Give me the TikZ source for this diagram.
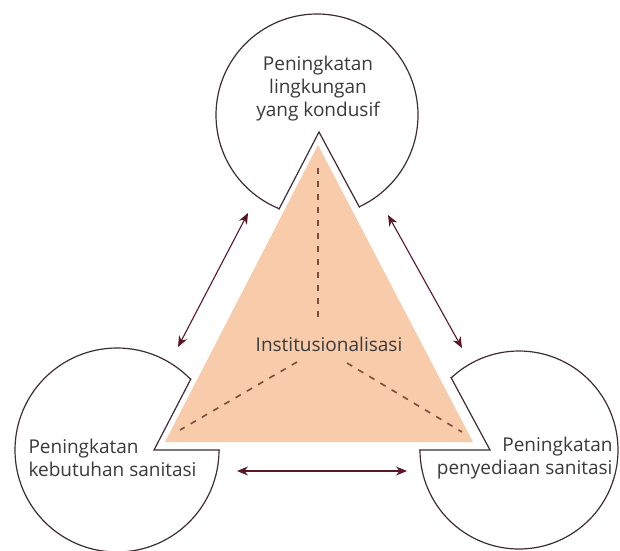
\documentclass[tikz,border=0pt]{standalone}
\usepackage{fontspec}
\setmainfont{Open Sans}
\usetikzlibrary{arrows.meta}
\definecolor{peach}{RGB}{248,203,170}
\definecolor{rim}{RGB}{62,44,52}
\definecolor{maroon}{RGB}{88,22,38}
\definecolor{ink}{RGB}{58,58,58}
\definecolor{dashbrown}{RGB}{125,75,60}

\begin{document}
\begin{tikzpicture}[x=1pt,y=-1pt,line width=1pt,
  bubble/.style={circle,draw=rim,line width=1.2pt,fill=white,inner sep=0pt},
  caption/.style={inner sep=0pt,text=ink,font=\fontsize{19}{23}\selectfont},
  link/.style={maroon,line width=1.1pt,{Stealth[length=11pt,width=9pt]}-{Stealth[length=11pt,width=9pt]}},
  spoke/.style={dashbrown,line width=1.6pt,dash pattern=on 6pt off 7pt}]
\path[use as bounding box] (0,0) rectangle (620,550);
% the three circles
\node[bubble,minimum size=202pt] (lingkungan) at (317,115) {};
\node[bubble,minimum size=204pt] (kebutuhan) at (117,450) {};
\node[bubble,minimum size=198pt] (penyediaan) at (519,450) {};
% notch and triangle
\fill[white] (319,132) -- (154,450) -- (490,450) -- cycle;
\fill[peach] (318,145) -- (165,442) -- (473,442) -- cycle;
\draw[spoke] (318,168) -- (318,320);
\draw[spoke] (297,362) -- (180,430);
\draw[spoke] (347,363) -- (462,432);
\begin{scope}
\clip (317,115) circle (102) (117,450) circle (103) (519,450) circle (100);
\draw[rim,line width=1.2pt,line join=miter] (319,132) -- (154,450) -- (490,450) -- cycle;
\end{scope}
% texts
\node[caption,align=center] (t-lingkungan) at (318,89) {Peningkatan\\lingkungan\\yang kondusif};
\node[caption,align=left,anchor=west] (t-kebutuhan) at (28,458) {Peningkatan\\kebutuhan sanitasi};
\node[caption,align=right,anchor=east] (t-penyediaan) at (613,458) {Peningkatan\\penyediaan sanitasi};
\node[caption] (t-institusi) at (329,344) {Institusionalisasi};
% arrows
\coordinate (kl-a) at (178,347);
\coordinate (kl-b) at (248,213);
\coordinate (pl-a) at (462,348);
\coordinate (pl-b) at (388,215);
\coordinate (kp-a) at (237,471);
\coordinate (kp-b) at (407,471);
\draw[link] (kl-a) -- (kl-b);
\draw[link] (pl-a) -- (pl-b);
\draw[link] (kp-a) -- (kp-b);
\end{tikzpicture}
\end{document}
